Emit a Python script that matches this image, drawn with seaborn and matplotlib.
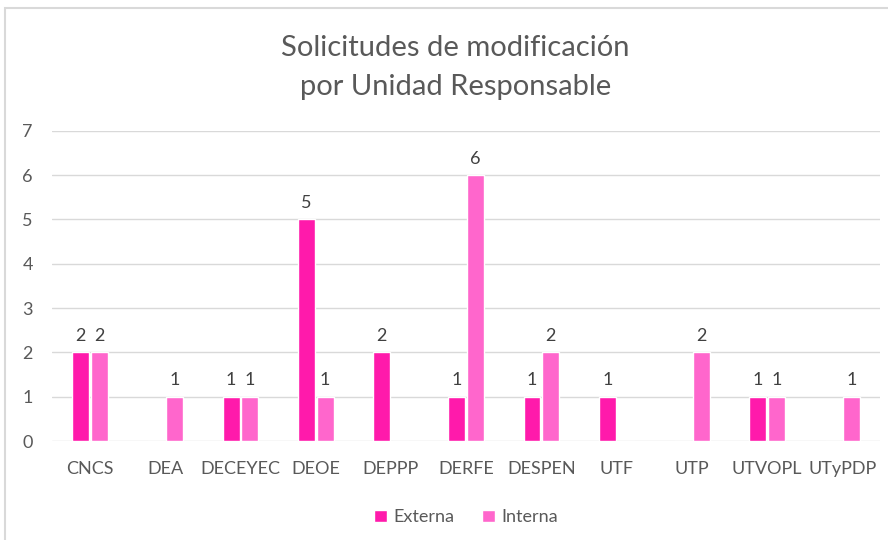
import pandas as pd
import seaborn as sns
import matplotlib.pyplot as plt
from matplotlib.patches import Rectangle

# data
unidades = ['CNCS', 'DEA', 'DECEYEC', 'DEOE', 'DEPPP', 'DERFE', 'DESPEN', 'UTF', 'UTP', 'UTVOPL', 'UTyPDP']
externa = [2, 0, 1, 5, 2, 1, 1, 1, 0, 1, 0]
interna = [2, 1, 1, 1, 0, 6, 2, 0, 2, 1, 1]
tipos = ['Externa', 'Interna']
colores = ['#FF1AAB', '#FF66CC']

df = pd.DataFrame({
    'Unidad': unidades * 2,
    'Tipo': ['Externa'] * len(unidades) + ['Interna'] * len(unidades),
    'Solicitudes': externa + interna,
})

sns.set_style('white')
plt.rcParams['font.family'] = ['Lato', 'DejaVu Sans']

fig = plt.figure(figsize=(8.88, 5.4), dpi=100)
ax = fig.add_axes([0.059, 0.183, 0.932, 0.575])

sns.barplot(data=df, x='Unidad', y='Solicitudes', hue='Tipo', hue_order=tipos,
            palette=colores, saturation=1, width=0.5, gap=0.1, ax=ax, legend=True)

for cont in ax.containers:
    labels = [f'{int(v)}' if v > 0 else '' for v in cont.datavalues]
    ax.bar_label(cont, labels=labels, padding=6, fontsize=13, color='#404040')

ax.set_ylim(0, 7)
ax.set_xlim(-0.5, len(unidades) - 0.5)
ax.set_yticks(range(0, 8))
ax.yaxis.grid(True, color='#d9d9d9', linewidth=1)
ax.set_axisbelow(True)
for s in ax.spines.values():
    s.set_visible(False)
ax.set_xlabel('')
ax.set_ylabel('')
ax.tick_params(axis='both', length=0, labelsize=13, colors='#595959')
ax.tick_params(axis='x', pad=14)
ax.tick_params(axis='y', pad=14)

ax.legend(loc='center', bbox_to_anchor=(0.5, -0.245), ncol=2, frameon=False,
          fontsize=13, handlelength=0.7, handleheight=0.7, columnspacing=1.5,
          handletextpad=0.4, labelcolor='#595959')

fig.text(0.513, 0.912, 'Solicitudes de modificación', ha='center', va='center',
         fontsize=21, color='#595959')
fig.text(0.513, 0.838, 'por Unidad Responsable', ha='center', va='center',
         fontsize=21, color='#595959')

fig.patches.append(Rectangle((0.006, -0.02), 1.0, 1.005, transform=fig.transFigure,
                             fill=False, edgecolor='#d9d9d9', linewidth=1.5))

fig.savefig('out.png', dpi=100)
